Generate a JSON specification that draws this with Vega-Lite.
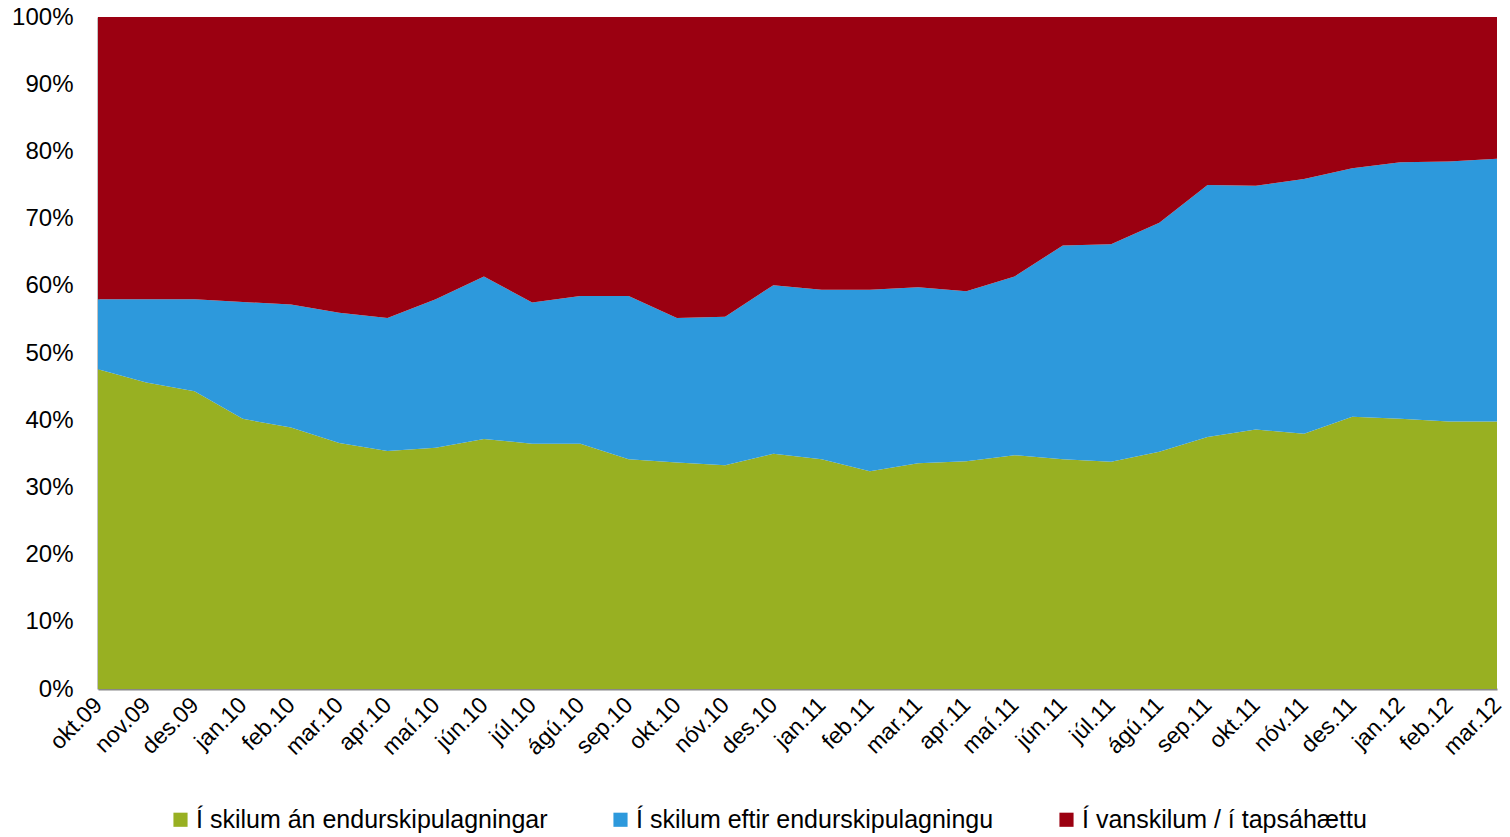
{
  "$schema": "https://vega.github.io/schema/vega-lite/v6.json",
  "autosize": {"type": "none"},
  "width": 1399,
  "height": 672,
  "padding": {"left": 98, "top": 17, "right": 13, "bottom": 148},
  "background": "white",
  "config": {
    "font": "Liberation Sans",
    "view": {"stroke": null},
    "axis": {"labelFont": "Liberation Sans", "labelColor": "#000000"}
  },
  "data": {
    "values": [
      {"m": "okt.09", "i": 0, "g": 47.6, "t": 58.0},
      {"m": "nov.09", "i": 1, "g": 45.6, "t": 58.0},
      {"m": "des.09", "i": 2, "g": 44.3, "t": 58.0},
      {"m": "jan.10", "i": 3, "g": 40.2, "t": 57.6},
      {"m": "feb.10", "i": 4, "g": 38.9, "t": 57.2},
      {"m": "mar.10", "i": 5, "g": 36.6, "t": 56.0},
      {"m": "apr.10", "i": 6, "g": 35.4, "t": 55.2},
      {"m": "maí.10", "i": 7, "g": 35.9, "t": 58.0},
      {"m": "jún.10", "i": 8, "g": 37.2, "t": 61.4},
      {"m": "júl.10", "i": 9, "g": 36.5, "t": 57.5},
      {"m": "ágú.10", "i": 10, "g": 36.5, "t": 58.5},
      {"m": "sep.10", "i": 11, "g": 34.2, "t": 58.5},
      {"m": "okt.10", "i": 12, "g": 33.7, "t": 55.2},
      {"m": "nóv.10", "i": 13, "g": 33.3, "t": 55.4},
      {"m": "des.10", "i": 14, "g": 35.0, "t": 60.1},
      {"m": "jan.11", "i": 15, "g": 34.2, "t": 59.4},
      {"m": "feb.11", "i": 16, "g": 32.4, "t": 59.4},
      {"m": "mar.11", "i": 17, "g": 33.6, "t": 59.8},
      {"m": "apr.11", "i": 18, "g": 33.9, "t": 59.2},
      {"m": "maí.11", "i": 19, "g": 34.8, "t": 61.4},
      {"m": "jún.11", "i": 20, "g": 34.2, "t": 66.0},
      {"m": "júl.11", "i": 21, "g": 33.8, "t": 66.2},
      {"m": "ágú.11", "i": 22, "g": 35.3, "t": 69.4},
      {"m": "sep.11", "i": 23, "g": 37.5, "t": 75.0},
      {"m": "okt.11", "i": 24, "g": 38.6, "t": 74.9},
      {"m": "nóv.11", "i": 25, "g": 38.0, "t": 75.9},
      {"m": "des.11", "i": 26, "g": 40.5, "t": 77.5},
      {"m": "jan.12", "i": 27, "g": 40.2, "t": 78.4},
      {"m": "feb.12", "i": 28, "g": 39.8, "t": 78.5},
      {"m": "mar.12", "i": 29, "g": 39.8, "t": 78.9}
    ]
  },
  "transform": [
    {"calculate": "datum.t - datum.g", "as": "b"},
    {"calculate": "100 - datum.t", "as": "r"},
    {"fold": ["g", "b", "r"], "as": ["k", "v"]},
    {"calculate": "datum.k === 'g' ? 'Í skilum án endurskipulagningar' : datum.k === 'b' ? 'Í skilum eftir endurskipulagningu' : 'Í vanskilum / í tapsáhættu'", "as": "series"},
    {"calculate": "datum.k === 'g' ? 0 : datum.k === 'b' ? 1 : 2", "as": "ord"}
  ],
  "mark": {"type": "area", "interpolate": "linear", "opacity": 1},
  "encoding": {
    "x": {
      "field": "m",
      "type": "ordinal",
      "sort": {"field": "i"},
      "scale": {"type": "point", "padding": 0},
      "axis": {
        "title": null,
        "labelAngle": -45,
        "labelAlign": "right",
        "labelBaseline": "middle",
        "labelPadding": 12,
        "labelFontSize": 23,
        "ticks": false,
        "domain": true,
        "domainColor": "#888888",
        "domainWidth": 2,
        "grid": false
      }
    },
    "y": {
      "field": "v",
      "type": "quantitative",
      "stack": "normalize",
      "scale": {"domain": [0, 1], "nice": false},
      "axis": {
        "title": null,
        "format": ".0%",
        "values": [0, 0.1, 0.2, 0.3, 0.4, 0.5, 0.6, 0.7, 0.8, 0.9, 1],
        "ticks": false,
        "labelPadding": 25,
        "labelFontSize": 24,
        "domain": true,
        "domainColor": "#888888",
        "domainWidth": 2,
        "grid": false
      }
    },
    "color": {
      "field": "series",
      "type": "nominal",
      "scale": {
        "domain": ["Í skilum án endurskipulagningar", "Í skilum eftir endurskipulagningu", "Í vanskilum / í tapsáhættu"],
        "range": ["#98B022", "#2D99DC", "#9B0011"]
      },
      "legend": {
        "title": null,
        "orient": "none",
        "direction": "horizontal",
        "legendX": 70,
        "legendY": 790,
        "padding": 0,
        "symbolType": "square",
        "symbolSize": 200,
        "symbolStrokeWidth": 0,
        "labelFontSize": 25,
        "labelFont": "Liberation Sans",
        "labelColor": "#000000",
        "labelOffset": 3,
        "columnPadding": 60,
        "labelLimit": 600
      }
    },
    "order": {"field": "ord", "type": "quantitative"}
  }
}
